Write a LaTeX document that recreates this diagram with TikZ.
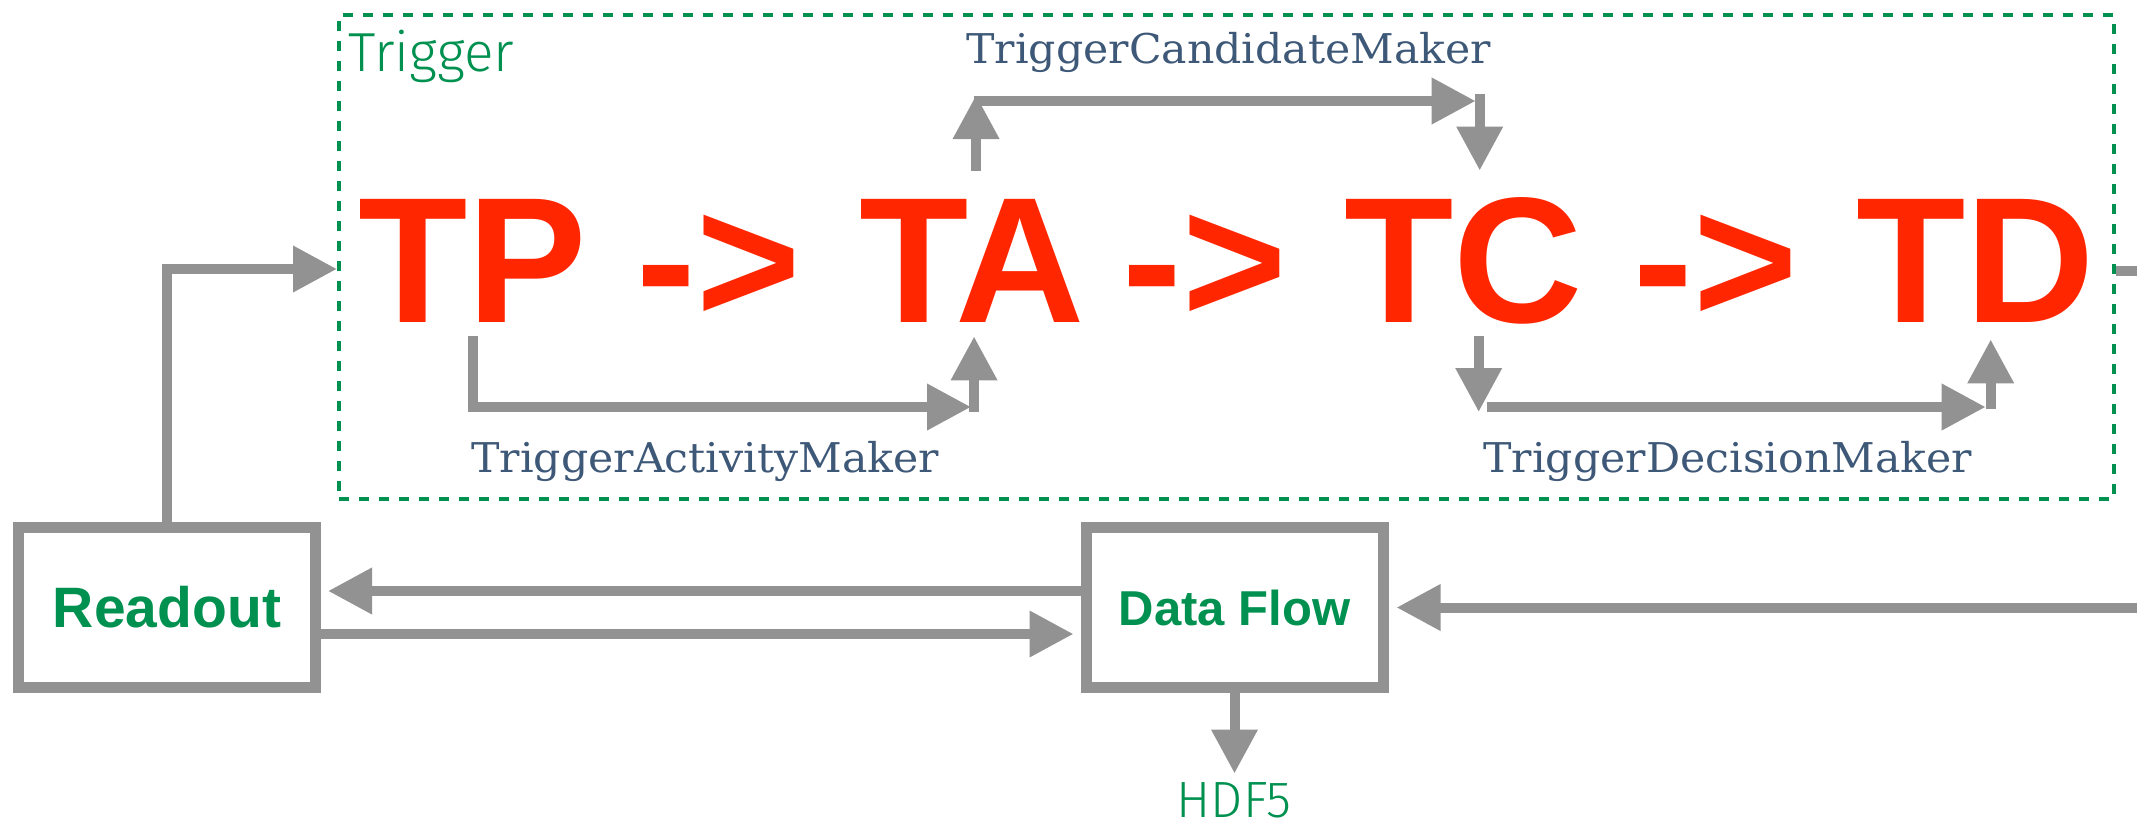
\documentclass[tikz,border=0pt]{standalone}
\usepackage{fontspec}
\setmainfont{Liberation Sans}
\newfontfamily\labelfont{DejaVu Serif}[FakeStretch=1.04]
\IfFontExistsTF{Fira Sans Light}
  {\newfontfamily\thinfont{Fira Sans Light}}
  {\newfontfamily\thinfont{Fira Sans}}
\usetikzlibrary{arrows.meta,calc}

\definecolor{flowgray}{RGB}{146,146,146}
\definecolor{dunegreen}{RGB}{0,145,80}
\definecolor{tpred}{RGB}{255,38,0}
\definecolor{makerblue}{RGB}{62,88,120}

\tikzset{
  flow/.style={draw=flowgray, line width=5pt, line join=miter,
    -{Triangle[length=22pt,width=22pt]}},
  plainflow/.style={draw=flowgray, line width=5pt},
  block/.style={draw=flowgray, line width=5.5pt, fill=white,
    minimum width=148.5pt, minimum height=80pt, inner sep=0pt,
    text=dunegreen},
  stage/.style={anchor=base west, inner sep=0pt, text=tpred,
    font=\fontsize{89.5}{90}\selectfont\bfseries,
    text height=75.5pt, text depth=7pt},
  maker/.style={anchor=base west, inner sep=0pt, text=makerblue,
    font=\labelfont\fontsize{20.5}{22}\selectfont},
  thinlabel/.style={inner sep=0pt, text=dunegreen},
}

\begin{document}
\begin{tikzpicture}[x=0.5pt,y=-0.5pt]
\useasboundingbox[fill=white] (0,0) rectangle (2137,825);

% trigger group
\node[draw=dunegreen, line width=2pt, dash pattern=on 5pt off 5pt,
      minimum width=887.5pt, minimum height=242pt, inner sep=0pt]
      (trigger) at (1226.5,257) {};
\node[thinlabel, anchor=base west, font=\thinfont\fontsize{27.5}{28}\selectfont]
      (triggerlabel) at (348,71) {Trigger};

% stages
\node[stage] (TP) at (358,322) {TP};
\node[stage] (arr1) at (636,322) {->};
\node[stage] (TA) at (859,322) {TA};
\node[stage] (arr2) at (1122,322) {->};
\node[stage] (TC) at (1344,322) {TC};
\node[stage] (arr3) at (1633,322) {->};
\node[stage] (TD) at (1856,322) {TD};

% maker labels
\node[maker] (tcmaker) at (966,63) {TriggerCandidateMaker};
\node[maker] (tamaker) at (471,472) {TriggerActivityMaker};
\node[maker] (tdmaker) at (1483,472) {TriggerDecisionMaker};

% helper rows
\coordinate (tcmrow) at (0,101);
\coordinate (tamrow) at (0,407);
\coordinate (entryrow) at (0,269);
\coordinate (outrow) at (0,271);
\coordinate (backrow) at (0,591);
\coordinate (fwdrow) at (0,634);
\coordinate (feedin) at (2150,607.5);

% blocks
\node[block, font=\fontsize{28.5}{30}\selectfont\bfseries] (readout) at (167,607.5) {Readout};
\node[block, font=\fontsize{24.5}{26}\selectfont\bfseries] (dataflow) at (1234.5,607.5) {Data Flow};

% candidate path above
\draw[flow] ($(TA.north)+(4,0)$) -- ($(TA.north|-tcmrow)+(4,-6)$);
\draw[flow] ($(TA.north|-tcmrow)+(2,0)$) -- ($(TC.north|-tcmrow)+(12,0)$);
\draw[flow] ($(TC.north|-tcmrow)+(16,-7)$) -- ($(TC.north)+(16,0)$);

% activity and decision paths below
\draw[flow] (TP.south) |- ($(TA.south|-tamrow)+(-1,0)$);
\draw[flow] ($(TA.south|-tamrow)+(2,5)$) -- ($(TA.south)+(2,0)$);
\draw[flow] ($(TC.south)+(15,0)$) -- ($(TC.south|-tamrow)+(15,5)$);
\draw[flow] ($(TC.south|-tamrow)+(23,0)$) -- ($(TD.south|-tamrow)+(10,0)$);
\draw[flow] ($(TD.south|-tamrow)+(15,2)$) -- ($(TD.south)+(15,3)$);

% readout into trigger
\draw[flow] (readout.north) |- (trigger.west|-entryrow);
% trigger output
\draw[plainflow] (trigger.east|-outrow) -- ++(40,0);

% readout <-> data flow
\draw[flow] (dataflow.west|-backrow) -- ($(readout.east|-backrow)+(7,0)$);
\draw[flow] (readout.east|-fwdrow) -- ($(dataflow.west|-fwdrow)+(-7,0)$);
\draw[flow] (feedin) -- ($(dataflow.east)+(8,0)$);

% storage
\draw[flow] (dataflow.south) -- ++(0,80.5) coordinate (hdftip);
\node[thinlabel, anchor=base, text depth=0pt, font=\thinfont\fontsize{25.5}{26}\selectfont]
      (hdf5) at (1234,817) {HDF5};
\end{tikzpicture}
\end{document}
